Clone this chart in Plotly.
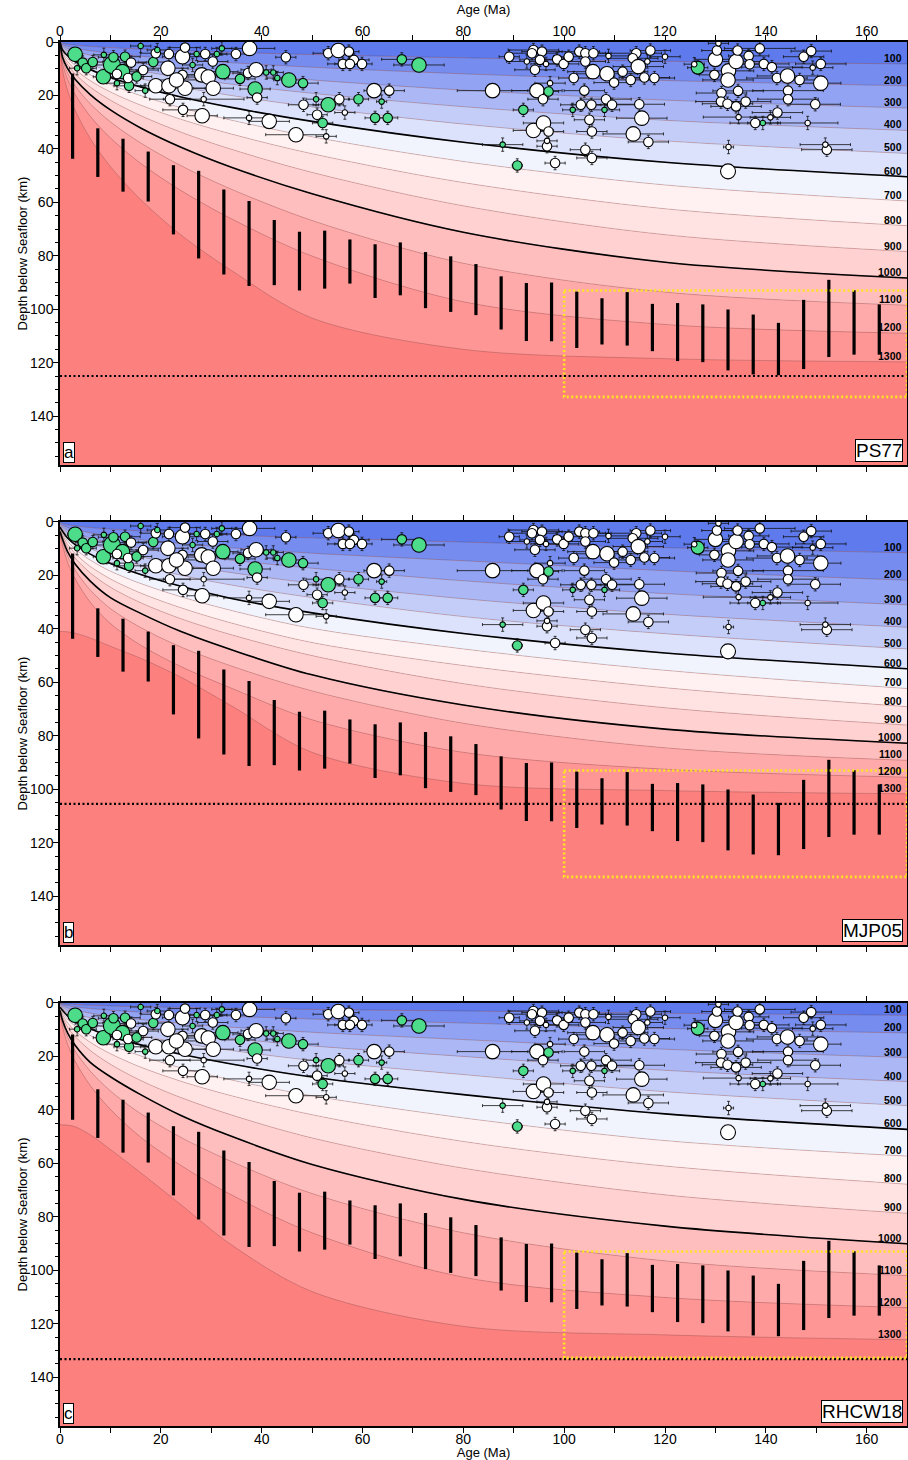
import plotly.graph_objects as go

# ---------------- data ----------------
AGES = [0, 0.5, 1.5, 3, 6, 10, 16, 24, 34, 50, 80, 120, 168]
ISOTHERMS = [100, 200, 300, 400, 500, 600, 700, 800, 900, 1000, 1100, 1200, 1300]

# isotherm depths (km) at AGES, one row per isotherm
PS77 = [
    [0, 0.47, 0.81, 1.15, 1.62, 2.09, 2.65, 3.24, 3.86, 4.68, 5.92, 7.2, 8.2],
    [0, 0.94, 1.63, 2.30, 3.25, 4.20, 5.31, 6.51, 7.74, 9.43, 11.9, 14.4, 16.4],
    [0, 1.42, 2.46, 3.48, 4.92, 6.35, 8.04, 9.84, 11.71, 14.2, 18.0, 21.75, 24.7],
    [0, 1.92, 3.32, 4.69, 6.64, 8.57, 10.84, 13.27, 15.8, 19.2, 24.2, 29.3, 33.1],
    [0, 2.43, 4.21, 5.95, 8.42, 10.87, 13.75, 16.84, 20.04, 24.3, 30.7, 37.0, 41.7],
    [0, 2.97, 5.14, 7.27, 10.29, 13.28, 16.8, 20.57, 24.48, 29.7, 37.5, 45.0, 50.4],
    [0, 3.55, 6.14, 8.69, 12.28, 15.86, 20.06, 24.57, 29.24, 35.5, 44.7, 53.5, 59.5],
    [0, 4.18, 7.23, 10.23, 14.47, 18.68, 23.62, 28.93, 34.44, 41.8, 52.6, 62.4, 68.75],
    [0, 4.87, 8.44, 11.93, 16.87, 21.78, 27.55, 33.74, 40.16, 48.8, 61.3, 72.1, 78.4],
    [0, 5.69, 9.85, 13.93, 19.69, 25.42, 32.16, 39.39, 46.88, 56.8, 71.2, 82.4, 88.3],
    [0, 6.68, 11.57, 16.36, 23.14, 29.87, 37.78, 46.28, 55.08, 66.8, 82.8, 93.6, 98.5],
    [0, 8.03, 13.9, 19.66, 27.8, 35.89, 45.4, 55.6, 66.18, 80.1, 97.2, 105.7, 109.0],
    [0, 10.42, 18.05, 25.53, 36.11, 46.61, 58.96, 72.21, 85.5, 103.3, 115.0, 118.5, 119.7],
]
MJP05 = [
    [0.3, 0.6, 1.03, 1.45, 2.06, 2.66, 3.36, 4.12, 4.9, 5.94, 7.5, 9.6, 11.5],
    [0.6, 1.17, 2.02, 2.86, 4.04, 5.22, 6.6, 8.08, 9.62, 11.67, 14.5, 18.2, 21.8],
    [0.9, 1.73, 3.0, 4.24, 6.0, 7.75, 9.8, 12.0, 14.29, 17.3, 22.0, 26.8, 31.0],
    [1.2, 2.3, 3.98, 5.63, 7.96, 10.28, 13.0, 15.92, 18.95, 22.9, 28.7, 34.5, 39.4],
    [1.5, 2.87, 4.97, 7.03, 9.94, 12.84, 16.24, 19.89, 23.6, 28.3, 35.4, 41.8, 47.5],
    [1.9, 3.47, 6.01, 8.5, 12.02, 15.53, 19.64, 24.05, 28.6, 34.0, 41.7, 49.0, 54.9],
    [2.3, 4.11, 7.13, 10.08, 14.25, 18.4, 23.0, 28.0, 33.1, 39.8, 47.5, 55.5, 62.3],
    [2.7, 4.8, 8.32, 11.76, 16.63, 21.3, 26.6, 32.1, 37.8, 45.1, 53.7, 62.0, 69.1],
    [3.1, 5.5, 9.53, 13.48, 19.05, 24.4, 30.2, 36.2, 42.2, 50.0, 60.5, 69.5, 76.0],
    [3.6, 6.4, 11.1, 15.7, 22.1, 28.3, 34.2, 41.0, 47.8, 57.2, 68.5, 77.5, 82.8],
    [4.1, 7.35, 12.73, 18.0, 25.45, 32.4, 39.5, 46.8, 53.9, 63.2, 75.3, 84.5, 89.2],
    [4.7, 8.67, 15.02, 21.23, 30.0, 38.0, 46.1, 54.1, 62.2, 74.0, 86.2, 92.5, 95.5],
    [41.0, 41.0, 41.1, 41.6, 43.4, 46.5, 51.0, 58.1, 68.8, 86.2, 97.8, 100.5, 101.7],
]
RHCW18 = [
    [0.2, 0.3, 0.42, 0.59, 0.83, 1.08, 1.36, 1.67, 1.98, 2.4, 3.0, 3.8, 4.6],
    [0.4, 0.65, 1.04, 1.47, 2.08, 2.69, 3.4, 4.16, 4.96, 6.0, 7.5, 9.5, 11.2],
    [0.7, 1.1, 1.9, 2.68, 3.8, 4.9, 6.2, 7.59, 9.04, 10.96, 13.7, 17.3, 20.4],
    [1.0, 1.6, 2.78, 3.93, 5.56, 7.18, 9.08, 11.12, 13.24, 16.05, 20.0, 25.2, 29.4],
    [1.3, 2.16, 3.74, 5.28, 7.47, 9.64, 12.2, 14.94, 17.78, 21.5, 26.8, 33.2, 38.4],
    [1.6, 2.77, 4.8, 6.79, 9.6, 12.4, 15.68, 19.2, 22.86, 27.7, 34.3, 41.5, 47.3],
    [1.9, 3.5, 6.06, 8.57, 12.12, 15.65, 19.8, 24.25, 28.8, 34.7, 43.0, 51.5, 57.3],
    [2.2, 4.24, 7.35, 10.39, 14.7, 18.97, 24.0, 29.3, 34.7, 41.8, 51.8, 61.0, 67.8],
    [2.5, 5.13, 8.88, 12.56, 17.76, 22.93, 29.0, 35.4, 41.9, 50.5, 61.8, 71.8, 78.7],
    [2.8, 6.5, 11.2, 15.8, 22.2, 27.6, 34.3, 42.1, 49.9, 60.4, 73.5, 83.5, 90.1],
    [3.2, 7.35, 12.74, 18.0, 25.5, 32.9, 41.4, 50.3, 59.3, 71.3, 86.0, 96.5, 102.0],
    [3.7, 8.9, 15.4, 21.8, 30.9, 39.8, 50.2, 60.8, 71.8, 86.0, 102.6, 110.2, 114.0],
    [45.6, 45.6, 45.7, 46.3, 49.3, 54.8, 63.5, 75.5, 90.5, 108.0, 121.0, 124.2, 126.0],
]
MODEL_NAMES = ["PS77", "MJP05", "RHCW18"]
PANEL_LETTERS = ["a", "b", "c"]
PLATE_BASE = [125.0, 105.5, 133.3]
HIGHLIGHT_ISOTHERMS = [600, 1000]

# vertical depth-range bars
BAR_AGES = [2.5, 7.5, 12.5, 17.5, 22.5, 27.5, 32.5, 37.5, 42.5, 47.5, 52.5, 57.5,
            62.5, 67.5, 72.5, 77.5, 82.5, 87.5, 92.5, 97.5, 102.5, 107.5, 112.5,
            117.5, 122.5, 127.5, 132.5, 137.5, 142.5, 147.5, 152.5, 157.5, 162.5]
BAR_TOP = [11.8, 32.3, 36.2, 41.0, 46.1, 48.2, 55.2, 59.5, 66.6, 71.0, 70.6, 73.9,
           75.7, 75.0, 78.6, 80.2, 83.1, 87.7, 90.2, 90.0, 93.4, 95.9, 93.6,
           98.0, 97.7, 98.2, 100.1, 102.0, 105.1, 96.5, 89.0, 92.9, 98.2]
BAR_BOTTOM = [43.7, 50.5, 56.0, 59.7, 72.0, 81.0, 87.0, 91.3, 91.0, 93.0, 92.3, 90.4,
              95.8, 94.8, 99.6, 101.0, 102.2, 107.6, 111.9, 112.0, 114.5, 113.2, 113.6,
              115.7, 119.4, 119.8, 122.9, 124.4, 124.7, 122.4, 117.9, 117.0, 117.0]

# highlighted box (age range, depth range)
BOX_AGE = [100, 168]
BOX_DEPTH = [93, 132.8]

# earthquakes
EQ_AGE = [3.0, 4.5, 3.4, 5.2, 6.5, 8.6, 10.3, 10.6, 8.7, 12.9, 12.4, 11.3, 11.3, 13.7, 13.5, 14.1,
          15.2, 16.0, 16.5, 16.9, 18.5, 19.0, 19.0, 19.3, 21.6, 21.4, 21.6, 21.8, 24.3, 24.8, 24.8,
          24.3, 23.1, 24.4, 26.3, 27.1, 28.8, 28.5, 28.2, 28.1, 29.4, 30.4, 30.3, 31.1, 32.1, 32.3,
          34.9, 35.7, 37.6, 37.3, 38.9, 38.7, 39.1, 37.5, 41.5, 40.9, 42.3, 43.1, 44.8, 45.4, 46.8,
          53.2, 55.2, 57.3, 56.1, 58.3, 59.9, 57.5, 67.8, 71.2, 48.2, 48.3, 50.8, 53.2, 55.4, 51.0,
          52.1, 52.8, 56.5, 59.2, 62.3, 65.3, 63.8, 62.5, 65.0, 85.8, 89.1, 91.9, 87.8, 90.7, 93.9,
          93.6, 95.6, 95.2, 92.6, 94.2, 96.4, 98.6, 97.2, 94.6, 96.9, 95.8, 93.9, 95.9, 96.9, 96.6,
          96.6, 98.2, 99.9, 100.9, 101.9, 103.0, 104.2, 105.8, 105.7, 104.2, 104.0, 101.7, 103.3,
          105.4, 105.0, 105.5, 104.2, 105.5, 108.8, 108.5, 109.9, 111.6, 114.3, 113.6, 114.7, 117.1,
          116.5, 120.0, 113.2, 115.9, 117.9, 108.3, 109.5, 108.0, 114.9, 115.4, 113.7, 116.7, 126.5,
          125.8, 130.0, 130.3, 130.6, 129.8, 132.6, 132.5, 134.1, 134.4, 136.6, 136.8, 138.8, 139.6,
          141.2, 142.2, 144.3, 146.7, 147.5, 149.0, 149.3, 150.9, 150.9, 134.5, 131.2, 131.1, 132.4,
          134.1, 136.0, 134.6, 137.9, 139.4, 140.9, 142.3, 144.4, 144.4, 149.8, 148.3, 132.6, 152.1,
          151.8, 132.5]
EQ_DEPTH = [4.6, 7.7, 9.8, 9.8, 7.5, 13.0, 8.6, 5.7, 4.8, 5.5, 11.1, 12.0, 15.4, 16.4, 13.5, 7.7,
            12.9, 1.5, 10.5, 18.2, 7.5, 4.2, 16.4, 3.0, 16.4, 9.8, 4.5, 21.4, 5.5, 2.1, 17.3,
            12.3, 14.2, 25.4, 8.6, 4.5, 4.5, 21.4, 27.6, 12.3, 13.1, 17.3, 7.3, 4.5, 2.4, 11.1,
            4.5, 13.8, 2.4, 11.6, 10.4, 17.6, 20.8, 28.4, 29.7, 11.4, 11.4, 13.5, 5.7, 14.2, 34.7,
            4.2, 3.2, 3.6, 8.2, 6.7, 8.2, 8.2, 6.5, 8.6, 15.4, 23.5, 21.4, 23.5, 21.4, 27.2,
            30.3, 35.3, 26.4, 21.4, 18.2, 18.2, 22.3, 28.4, 28.4, 18.2, 5.5, 25.4, 38.4, 46.2, 3.0,
            4.2, 3.6, 6.7, 7.3, 10.4, 8.2, 6.5, 15.4, 18.2, 18.5, 21.4, 33.1, 30.3, 33.5, 39.0,
            37.0, 45.3, 8.2, 5.5, 13.5, 3.6, 4.2, 4.2, 11.1, 7.3, 18.2, 25.4, 23.5,
            23.5, 29.1, 33.5, 40.3, 43.4, 5.2, 11.9, 15.2, 11.1, 4.2, 6.1, 9.2, 3.2,
            7.3, 5.5, 14.2, 13.3, 13.5, 21.4, 23.5, 25.4, 23.3, 28.5, 34.4, 37.4, 9.6,
            8.3, 6.5, 3.2, 0.5, 12.3, 10.8, 14.2, 7.3, 3.2, 5.2, 8.3, 2.4, 8.2,
            9.4, 13.5, 12.7, 14.2, 5.5, 3.4, 9.6, 8.2, 15.4, 18.3, 19.1, 22.3, 23.1,
            24.1, 22.3, 28.1, 30.3, 30.3, 28.2, 26.4, 18.2, 21.4, 23.3, 30.3, 39.3, 40.3,
            38.4, 48.4]
EQ_SIZE = [14.5, 9.5, 5.5, 9.5, 9.5, 14.5, 17, 9.5, 5.5, 9.5, 14.5, 9.5, 5.5, 9.5, 9.5, 9.5,
           9.5, 5.5, 9.5, 5.5, 9.5, 9.5, 14.5, 5.5, 14.5, 14.5, 9.5, 9.5, 14.5, 9.5, 14.5,
           9.5, 14.5, 9.5, 5.5, 5.5, 9.5, 5.5, 14.5, 14.5, 14.5, 14.5, 9.5, 5.5, 5.5, 14.5,
           9.5, 9.5, 14.5, 9.5, 14.5, 14.5, 9.5, 5.5, 14.5, 5.5, 5.5, 5.5, 9.5, 14.5, 14.5,
           9.5, 14.5, 9.5, 9.5, 9.5, 9.5, 9.5, 9.5, 14.5, 9.5, 9.5, 5.5, 14.5, 9.5, 9.5,
           9.5, 5.5, 5.5, 9.5, 14.5, 9.5, 5.5, 9.5, 9.5, 14.5, 9.5, 9.5, 5.5, 9.5, 9.5,
           9.5, 9.5, 9.5, 5.5, 9.5, 5.5, 9.5, 5.5, 14.5, 9.5, 9.5, 14.5, 14.5, 9.5, 9.5,
           5.5, 9.5, 9.5, 9.5, 9.5, 9.5, 9.5, 9.5, 14.5, 9.5, 9.5, 5.5, 9.5,
           9.5, 9.5, 9.5, 9.5, 9.5, 5.5, 14.5, 9.5, 9.5, 9.5, 9.5, 14.5, 9.5,
           5.5, 5.5, 9.5, 9.5, 9.5, 9.5, 9.5, 5.5, 9.5, 14.5, 14.5, 9.5, 13,
           5.5, 14.5, 9.5, 5.5, 9.5, 14.5, 14.5, 14.5, 9.5, 9.5, 9.5, 9.5, 9.5,
           9.5, 9.5, 14.5, 9.5, 9.5, 9.5, 5.5, 9.5, 14.5, 9.5, 9.5, 9.5, 9.5,
           9.5, 9.5, 5.5, 9.5, 5.5, 5.5, 9.5, 9.5, 9.5, 9.5, 5.5, 5.5, 9.5,
           5.5, 15]
EQ_GREEN = [1, 1, 1, 1, 1, 1, 1, 1, 1, 1, 1, 0, 1, 1, 0, 0,
            1, 1, 0, 1, 1, 0, 0, 1, 0, 0, 0, 0, 0, 0, 0,
            0, 0, 0, 1, 1, 0, 0, 0, 0, 0, 0, 0, 1, 1, 1,
            0, 1, 0, 0, 0, 1, 0, 0, 0, 1, 1, 1, 0, 1, 0,
            0, 0, 0, 0, 0, 0, 0, 1, 1, 1, 0, 1, 1, 0, 0,
            1, 0, 0, 1, 0, 0, 1, 1, 1, 0, 0, 1, 1, 1, 0,
            0, 0, 0, 0, 0, 0, 0, 0, 0, 1, 0, 0, 0, 0, 0,
            0, 0, 0, 0, 0, 0, 0, 0, 0, 0, 0, 1, 0,
            0, 0, 0, 0, 0, 0, 0, 0, 0, 0, 0, 0, 0,
            0, 0, 0, 0, 0, 0, 0, 1, 0, 0, 0, 0, 1,
            0, 0, 0, 0, 0, 0, 0, 0, 0, 0, 0, 0, 0,
            0, 0, 0, 0, 0, 0, 0, 0, 0, 0, 0, 0, 0,
            0, 0, 0, 0, 1, 0, 0, 0, 0, 0, 0, 0, 0,
            0, 0]
EQ_XERR = [1.5, 1.5, 1.5, 2, 2, 2, 3, 3, 2, 3, 3, 3, 2, 3, 3, 3,
           3, 2, 3, 2, 3, 3, 3, 2, 4, 4, 3, 4, 4, 3, 4,
           3, 4, 4, 2, 2, 3, 8, 3, 4, 4, 4, 3, 2, 2, 3,
           3, 3, 5, 3, 3, 3, 2, 5, 4, 2, 2, 2, 2, 3, 6,
           3, 3, 2, 3, 3, 2, 3, 4, 5, 3, 3, 2, 3, 2, 2,
           2, 2, 2, 2, 2, 3, 1, 2, 2, 7, 2, 2, 4, 1, 5,
           5, 4, 4, 4, 4, 3, 3, 3, 5, 2, 3, 4, 4, 3, 2,
           2, 2, 3, 3, 3, 4, 4, 3, 5, 4, 4, 2, 4,
           4, 3, 3, 3, 3, 4, 6, 4, 5, 5, 5, 5, 4,
           3, 3, 5, 5, 4, 5, 5, 3, 5, 5, 6, 4, 2,
           2, 4, 3, 2, 3, 5, 5, 5, 4, 4, 4, 7, 5,
           6, 6, 6, 5, 4, 4, 4, 5, 4, 5, 5, 5, 5,
           5, 5, 7, 5, 3, 4, 5, 7, 6, 5, 6, 1, 5,
           5, 1]
EQ_YERR = [2.5] * len(EQ_AGE)

# band colours from 0-100 C down to >1300 C
BAND_COLORS = ["rgb(94,122,236)", "rgb(118,141,239)", "rgb(145,163,242)", "rgb(171,184,245)",
               "rgb(196,205,248)", "rgb(220,226,251)", "rgb(241,243,253)", "rgb(255,241,241)",
               "rgb(255,226,226)", "rgb(255,209,209)", "rgb(255,190,190)", "rgb(255,170,170)",
               "rgb(255,150,150)", "rgb(252,128,126)"]
GREEN = "#4cdc8a"
YELLOW = "#ffe51f"
FONT = "Liberation Sans, Arial, Helvetica, sans-serif"

# ---------------- figure ----------------
W, H = 908, 1460
M_L, M_R, M_T, M_B = 60, 1, 42, 34
Y_DOMAINS = [[0.69436, 1.0], [0.34754, 0.65318], [0.0, 0.30564]]
X_MAX = 168
Y_MAX = 158.3

fig = go.Figure()
models = [PS77, MJP05, RHCW18]
shapes = []
annotations = []

for i, iso in enumerate(models):
    sfx = "" if i == 0 else str(i + 1)
    xa, ya = "x" + sfx, "y" + sfx
    common = dict(xaxis=xa, yaxis=ya, showlegend=False, hoverinfo="skip")
    # surface line
    fig.add_trace(go.Scatter(x=[0, X_MAX], y=[0, 0], mode="lines",
                             line=dict(width=0, color="rgba(0,0,0,0)"), **common))
    for k, T in enumerate(ISOTHERMS):
        fig.add_trace(go.Scatter(
            x=AGES, y=iso[k], mode="lines",
            line=dict(color="rgba(70,40,40,0.40)", width=0.6, shape="spline", smoothing=0.9),
            fill="tonexty", fillcolor=BAND_COLORS[k], **common))
    for T in HIGHLIGHT_ISOTHERMS:
        k = ISOTHERMS.index(T)
        fig.add_trace(go.Scatter(
            x=AGES, y=iso[k], mode="lines",
            line=dict(color="black", width=1.6, shape="spline", smoothing=0.9), **common))
    # depth-range bars
    bx, by = [], []
    for a, t, b in zip(BAR_AGES, BAR_TOP, BAR_BOTTOM):
        bx += [a, a, None]
        by += [t, b, None]
    fig.add_trace(go.Scatter(x=bx, y=by, mode="lines",
                             line=dict(color="black", width=3.2), **common))
    # earthquakes
    fig.add_trace(go.Scatter(
        x=EQ_AGE, y=EQ_DEPTH, mode="markers",
        marker=dict(size=EQ_SIZE, color=[GREEN if g else "white" for g in EQ_GREEN],
                    opacity=1, line=dict(color="black", width=1.1)),
        error_x=dict(type="data", array=EQ_XERR, color="#111111", thickness=0.8, width=1.5),
        error_y=dict(type="data", array=EQ_YERR, color="#111111", thickness=0.8, width=1.5),
        **common))

    # dotted plate base
    shapes.append(dict(type="line", xref=xa, yref=ya, x0=0, x1=X_MAX,
                       y0=PLATE_BASE[i], y1=PLATE_BASE[i], layer="above",
                       line=dict(color="black", width=2.2, dash="2px,2.5px")))
    # yellow box
    shapes.append(dict(type="rect", xref=xa, yref=ya, x0=BOX_AGE[0], x1=BOX_AGE[1],
                       y0=BOX_DEPTH[0], y1=BOX_DEPTH[1], layer="above",
                       line=dict(color=YELLOW, width=2.6, dash="2px,2.5px")))

    # isotherm labels
    for k, T in enumerate(ISOTHERMS):
        annotations.append(dict(x=X_MAX - 0.6, y=iso[k][-1], xref=xa, yref=ya,
                                text="<b>%d</b>" % T, showarrow=False, xanchor="right",
                                yanchor="middle", yshift=6,
                                font=dict(family=FONT, size=10.5, color="black")))
    # panel letter
    annotations.append(dict(x=0.003, y=0.004, xref=xa + " domain", yref=ya + " domain",
                            text=PANEL_LETTERS[i], showarrow=False, xanchor="left",
                            yanchor="bottom", bgcolor="white", bordercolor="black",
                            borderwidth=1, borderpad=0,
                            font=dict(family=FONT, size=17, color="black")))
    # model name
    annotations.append(dict(x=0.995, y=0.006, xref=xa + " domain", yref=ya + " domain",
                            text=MODEL_NAMES[i], showarrow=False, xanchor="right",
                            yanchor="bottom", bgcolor="white", bordercolor="black",
                            borderwidth=1, borderpad=0,
                            font=dict(family=FONT, size=19, color="black")))

    axis_common = dict(showline=True, linecolor="black", linewidth=1.5, mirror="ticks",
                       ticks="outside", ticklen=5, tickwidth=1, tickcolor="black",
                       showgrid=False, zeroline=False, automargin=False,
                       tickfont=dict(family=FONT, size=14, color="black"))
    xaxis = dict(domain=[0, 1], range=[0, X_MAX], anchor=ya, dtick=20, tick0=0,
                 minor=dict(dtick=10, ticklen=5, tickwidth=1, tickcolor="black", ticks="outside"),
                 showticklabels=(i != 1), side=("top" if i == 0 else "bottom"),
                 ticklabelstandoff=-6, **axis_common)
    if i != 1:
        xaxis["title"] = dict(text="Age (Ma)", font=dict(family=FONT, size=13, color="black"),
                              standoff=5)
    yaxis = dict(domain=Y_DOMAINS[i], range=[Y_MAX, 0], anchor=xa, dtick=20, tick0=0,
                 minor=dict(dtick=5, ticklen=3, tickwidth=1, tickcolor="black", ticks="outside"),
                 title=dict(text="Depth below Seafloor (km)",
                            font=dict(family=FONT, size=13, color="black"), standoff=0),
                 ticklabelstandoff=-3, **axis_common)
    fig.layout["xaxis" + sfx] = xaxis
    fig.layout["yaxis" + sfx] = yaxis

fig.update_layout(
    width=W, height=H,
    margin=dict(l=M_L, r=M_R, t=M_T, b=M_B),
    paper_bgcolor="white", plot_bgcolor=BAND_COLORS[-1],
    shapes=shapes, annotations=annotations,
    font=dict(family=FONT, color="black"),
    showlegend=False,
)

fig.write_html(
    "out.html",
    config={"displayModeBar": False},
    post_script="document.body.style.margin='0';document.body.style.padding='0';"
                "document.body.style.overflow='hidden';",
)
